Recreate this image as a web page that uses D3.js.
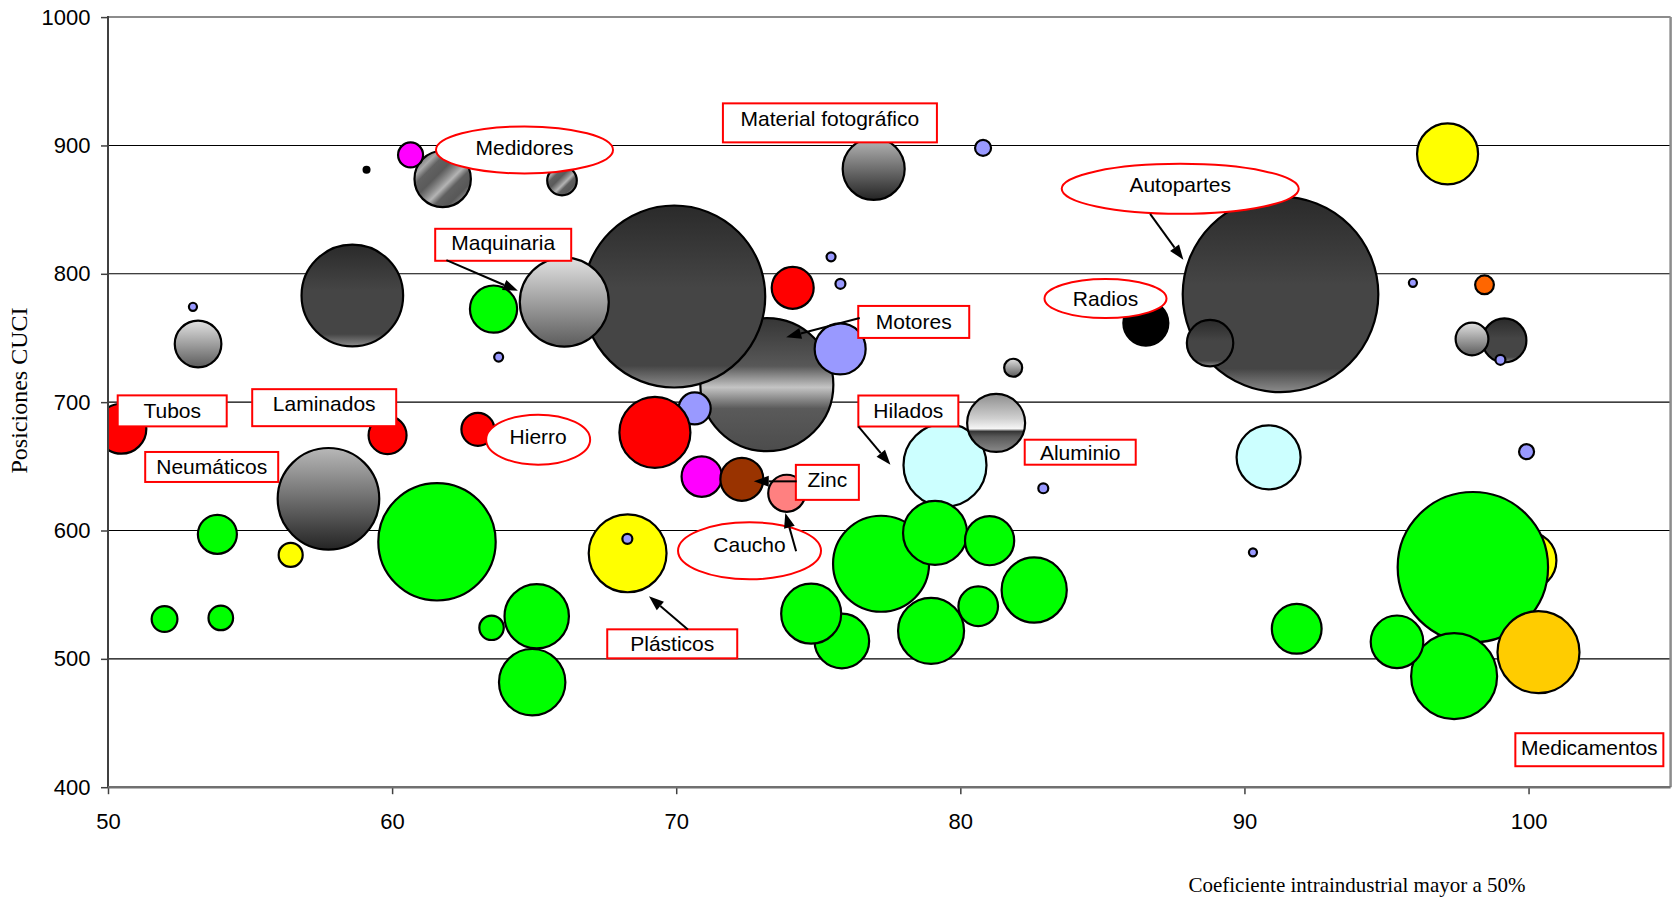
<!DOCTYPE html>
<html>
<head>
<meta charset="utf-8">
<script src="https://cdn.jsdelivr.net/npm/d3@7"></script>
<style>
  body { margin: 0; background: #fff; }
  svg { display: block; }
</style>
</head>
<body>
<svg id="grafico" width="1677" height="901"></svg>
<script>
// Coeficiente intraindustrial (eje x), posición CUCI (eje y), peso relativo (área de la burbuja)
// y serie de cada burbuja. El orden del arreglo es el orden de dibujo.
const coeficiente = [
  73.19, 69.93, 66.06, 58.60, 91.27, 88.79, 99.15, 98.01, 57.76, 76.95,
  53.17, 81.86, 79.46, 81.26, 90.85, 61.78, 65.98, 60.65, 70.90, 59.10,
  86.53, 97.15, 68.29, 56.43, 99.96, 98.04, 100.35, 97.38, 95.37, 91.84,
  61.58, 53.85, 51.99, 53.97, 63.50, 65.09, 64.93, 63.57, 77.21, 75.83,
  74.75, 79.11, 78.97, 81.03, 80.63, 82.60, 70.65, 50.47, 59.84, 63.02,
  69.25, 74.10, 72.31, 73.89, 98.45, 75.77, 80.80, 75.45, 75.78, 63.75,
  52.99, 68.28, 82.92, 95.93, 99.01, 99.93, 90.30
];
const posicion = [
  713.6, 782.3, 778.0, 783.1, 784.0, 746.0, 748.1, 749.2, 624.7, 881.7,
  745.3, 726.8, 650.9, 683.8, 657.0, 873.9, 872.6, 892.6, 642.0, 881.0,
  761.6, 893.4, 582.2, 581.0, 576.6, 571.4, 505.2, 486.5, 513.3, 523.4,
  591.2, 597.0, 531.0, 531.9, 524.2, 533.2, 481.8, 772.5, 574.1, 513.9,
  535.2, 598.1, 521.8, 592.1, 541.0, 553.6, 695.1, 679.3, 674.3, 678.8,
  676.4, 789.1, 639.9, 629.0, 791.4, 741.5, 898.1, 813.2, 792.2, 735.1,
  774.3, 593.5, 632.9, 793.0, 733.0, 661.4, 583.0
];
const peso = [
  46.23, 86.58, 20.70, 26.98, 100.00, 5.63, 5.06, 2.81, 26.98, 10.05,
  5.68, 0.85, 18.00, 8.79, 10.71, 8.31, 2.29, 1.63, 4.27, 0.09,
  5.29, 9.73, 15.82, 1.51, 8.79, 59.12, 17.58, 19.33, 7.23, 6.48,
  36.02, 3.98, 1.74, 1.58, 1.56, 10.84, 11.52, 5.82, 24.09, 7.79,
  9.41, 10.71, 11.39, 6.33, 4.10, 11.11, 2.68, 6.53, 3.77, 2.85,
  13.18, 4.61, 4.83, 3.58, 0.92, 6.80, 0.67, 0.21, 0.26, 0.21,
  0.17, 0.26, 0.26, 0.17, 0.26, 0.59, 0.17
];
const serie = [
  "metal", "oscuro", "plata", "oscuro", "oscuro", "oscuro", "oscuro", "plata", "gris", "gris",
  "plata", "plata", "celeste", "cromo", "celeste", "rayado", "rayado", "magenta", "magenta", "negro",
  "negro", "amarillo", "amarillo", "amarillo", "amarillo", "verde", "oro", "verde", "verde", "verde",
  "verde", "verde", "verde", "verde", "verde", "verde", "verde", "verde", "verde", "verde",
  "verde", "verde", "verde", "verde", "verde", "verde", "lila", "rojo", "rojo", "rojo",
  "rojo", "rojo", "marron", "rosa", "naranja", "lila", "lila", "lila", "lila", "lila",
  "lila", "lila", "lila", "lila", "lila", "lila", "lila"
];

const ticksX = [50, 60, 70, 80, 90, 100];
const ticksY = [400, 500, 600, 700, 800, 900, 1000];
const lineasGuia = [500, 600, 700, 800, 900];

const tituloX = "Coeficiente intraindustrial mayor a 50%";
const tituloY = "Posiciones CUCI";

// Rótulos de los sectores (centro en unidades de los ejes, tamaño del recuadro en px)
const notas = [
  { texto: "Tubos", forma: "caja", x: 52.26, y: 693.2, w: 109, h: 31, dy: 0 },
  { texto: "Laminados", forma: "caja", x: 57.61, y: 695.7, w: 144, h: 37, dy: -4 },
  { texto: "Neumáticos", forma: "caja", x: 53.65, y: 649.5, w: 133, h: 30, dy: 0 },
  { texto: "Medidores", forma: "elipse", x: 64.66, y: 896.5, w: 177, h: 47, dy: -2 },
  { texto: "Maquinaria", forma: "caja", x: 63.91, y: 822.6, w: 136, h: 32, dy: -2,
    flecha: [[61.91, 810.6], [64.43, 786.7]] },
  { texto: "Hierro", forma: "elipse", x: 65.14, y: 670.8, w: 104, h: 50, dy: -3 },
  { texto: "Material fotográfico", forma: "caja", x: 75.41, y: 917.6, w: 214, h: 39, dy: -4 },
  { texto: "Motores", forma: "caja", x: 78.36, y: 762.5, w: 111, h: 32, dy: 0,
    flecha: [[76.46, 765.5], [73.87, 750.6]] },
  { texto: "Hilados", forma: "caja", x: 78.17, y: 693.1, w: 100, h: 31, dy: -1,
    flecha: [[76.41, 681.1], [77.54, 651.3]] },
  { texto: "Aluminio", forma: "caja", x: 84.22, y: 661.0, w: 111, h: 25, dy: 0 },
  { texto: "Zinc", forma: "caja", x: 75.32, y: 637.5, w: 63, h: 35, dy: -3,
    flecha: [[74.24, 638.3], [72.73, 638.3]] },
  { texto: "Caucho", forma: "elipse", x: 72.58, y: 584.2, w: 143, h: 57, dy: -6,
    flecha: [[74.22, 583.8], [73.84, 613.7]] },
  { texto: "Plásticos", forma: "caja", x: 69.86, y: 511.7, w: 130, h: 29, dy: 0,
    flecha: [[70.41, 522.9], [69.04, 548.8]] },
  { texto: "Autopartes", forma: "elipse", x: 87.74, y: 866.2, w: 237, h: 50, dy: -4,
    flecha: [[86.68, 846.7], [87.85, 810.9]] },
  { texto: "Radios", forma: "elipse", x: 85.11, y: 780.7, w: 122, h: 39, dy: 0 },
  { texto: "Medicamentos", forma: "caja", x: 102.14, y: 429.2, w: 148, h: 33, dy: -2 }
];

// ---- estilos ----
const fuenteSans = "'Liberation Sans', Arial, Helvetica, sans-serif";
const fuenteSerif = "'Liberation Serif', 'Times New Roman', serif";

const degradados = {
  oscuro: [[0, "#2a2a2a"], [0.45, "#454545"], [0.88, "#454545"], [1, "#8c8c8c"]],
  metal:  [[0, "#363636"], [0.36, "#585858"], [0.52, "#c4c4c4"], [0.68, "#5a5a5a"], [1, "#4c4c4c"]],
  plata:  [[0, "#e2e2e2"], [1, "#5c5c5c"]],
  gris:   [[0, "#b8b8b8"], [1, "#242424"]],
  cromo:  [[0, "#8e8e8e"], [0.42, "#cfcfcf"], [0.6, "#f6f6f6"], [0.645, "#353535"], [0.74, "#5a5a5a"], [1, "#8a8a8a"]]
};
const rayado = [[0, "#5a5a5a"], [0.14, "#7c7c7c"], [0.22, "#a8a8a8"], [0.3, "#626262"], [0.42, "#5a5a5a"],
                [0.52, "#8e8e8e"], [0.58, "#b4b4b4"], [0.66, "#606060"], [0.78, "#585858"], [0.87, "#8e8e8e"],
                [0.93, "#a8a8a8"], [1, "#5e5e5e"]];
const colorSerie = {
  verde: "#00ff00", rojo: "#ff0000", magenta: "#ff00ff", amarillo: "#ffff00",
  oro: "#ffcc00", naranja: "#ff6600", lila: "#9999ff", celeste: "#ccffff",
  marron: "#993300", rosa: "#ff8080", negro: "#000000",
  oscuro: "url(#g-oscuro)", metal: "url(#g-metal)", plata: "url(#g-plata)",
  gris: "url(#g-gris)", cromo: "url(#g-cromo)", rayado: "url(#g-rayado)"
};

// ---- geometría ----
const svg = d3.select("#grafico");
const area = { left: 108, right: 1670.6, top: 17.1, bottom: 787.2 };

const x = d3.scaleLinear().domain([50, 105]).range([area.left, area.right]);
const y = d3.scaleLinear().domain([400, 1000]).range([area.bottom, area.top]);
const r = d3.scaleSqrt().domain([0, 100]).range([0, 97.8]);

const defs = svg.append("defs");
Object.entries(degradados).forEach(([id, paradas]) => {
  const g = defs.append("linearGradient").attr("id", "g-" + id)
    .attr("x1", 0).attr("y1", 0).attr("x2", 0).attr("y2", 1);
  paradas.forEach(([o, c]) => g.append("stop").attr("offset", o).attr("stop-color", c));
});
const gr = defs.append("linearGradient").attr("id", "g-rayado")
  .attr("x1", 0).attr("y1", 0).attr("x2", 1).attr("y2", 1);
rayado.forEach(([o, c]) => gr.append("stop").attr("offset", o).attr("stop-color", c));

defs.append("clipPath").attr("id", "recorte").append("rect")
  .attr("x", area.left).attr("y", area.top)
  .attr("width", area.right - area.left).attr("height", area.bottom - area.top);

// líneas guía horizontales
svg.append("g").selectAll("line").data(lineasGuia).join("line")
  .attr("x1", area.left).attr("x2", area.right)
  .attr("y1", d => y(d)).attr("y2", d => y(d))
  .attr("stroke", "#000").attr("stroke-width", 1.1);

// burbujas
const burbujas = coeficiente.map((c, i) => ({ c, p: posicion[i], s: peso[i], serie: serie[i] }));
svg.append("g").attr("clip-path", "url(#recorte)")
  .selectAll("circle").data(burbujas).join("circle")
  .attr("cx", d => x(d.c)).attr("cy", d => y(d.p)).attr("r", d => r(d.s))
  .attr("fill", d => colorSerie[d.serie])
  .attr("stroke", "#000").attr("stroke-width", 2.2);

// marco del área de trazado
svg.append("line").attr("x1", area.left).attr("x2", area.right).attr("y1", area.top).attr("y2", area.top)
  .attr("stroke", "#8c8c8c").attr("stroke-width", 2);
svg.append("line").attr("x1", area.right).attr("x2", area.right).attr("y1", area.top).attr("y2", area.bottom)
  .attr("stroke", "#8c8c8c").attr("stroke-width", 2.5);

// ejes
const ejeY = svg.append("g").attr("transform", `translate(${area.left},0)`)
  .call(d3.axisLeft(y).tickValues(ticksY).tickSize(7).tickPadding(10.5).tickFormat(d3.format("d")));
const ejeX = svg.append("g").attr("transform", `translate(0,${area.bottom})`)
  .call(d3.axisBottom(x).tickValues(ticksX).tickSize(7).tickPadding(19).tickFormat(d3.format("d")));
[ejeY, ejeX].forEach(g => {
  g.select(".domain").remove();
  g.selectAll(".tick line").attr("stroke", "#404040").attr("stroke-width", 1.5);
  g.selectAll(".tick text").attr("fill", "#000").style("font-family", fuenteSans).style("font-size", "22px");
});
svg.append("line").attr("x1", area.left).attr("x2", area.left).attr("y1", area.top - 1).attr("y2", area.bottom)
  .attr("stroke", "#404040").attr("stroke-width", 2);
svg.append("line").attr("x1", area.left).attr("x2", area.right).attr("y1", area.bottom).attr("y2", area.bottom)
  .attr("stroke", "#707070").attr("stroke-width", 2.5);

// títulos de los ejes
svg.append("text").text(tituloX)
  .attr("x", 1357).attr("y", 885).attr("text-anchor", "middle").attr("dominant-baseline", "central")
  .style("font-family", fuenteSerif).style("font-size", "21px").attr("fill", "#000");
svg.append("text").text(tituloY)
  .attr("transform", "translate(19,390.5) rotate(-90)")
  .attr("text-anchor", "middle").attr("dominant-baseline", "central")
  .style("font-family", fuenteSerif).style("font-size", "24px").attr("fill", "#000");

// rótulos con recuadro o elipse
const capaNotas = svg.append("g");
notas.forEach(n => {
  const cx = x(n.x), cy = y(n.y);
  if (n.forma === "caja") {
    capaNotas.append("rect")
      .attr("x", cx - n.w / 2).attr("y", cy - n.h / 2).attr("width", n.w).attr("height", n.h)
      .attr("fill", "#fff").attr("stroke", "#ff0000").attr("stroke-width", 2);
  } else {
    capaNotas.append("ellipse")
      .attr("cx", cx).attr("cy", cy).attr("rx", n.w / 2).attr("ry", n.h / 2)
      .attr("fill", "#fff").attr("stroke", "#ff0000").attr("stroke-width", 2);
  }
  capaNotas.append("text").text(n.texto)
    .attr("x", cx).attr("y", cy + n.dy)
    .attr("text-anchor", "middle").attr("dominant-baseline", "central")
    .style("font-family", fuenteSans).style("font-size", "21px").attr("fill", "#000");
});

// flechas
const largoPunta = 15, anchoPunta = 11;
notas.filter(n => n.flecha).forEach(n => {
  const [a, b] = n.flecha;
  const x0 = x(a[0]), y0 = y(a[1]), x1 = x(b[0]), y1 = y(b[1]);
  const L = Math.hypot(x1 - x0, y1 - y0);
  const ux = (x1 - x0) / L, uy = (y1 - y0) / L;
  const bx = x1 - ux * largoPunta, by = y1 - uy * largoPunta;
  capaNotas.append("line")
    .attr("x1", x0).attr("y1", y0).attr("x2", bx).attr("y2", by)
    .attr("stroke", "#000").attr("stroke-width", 2);
  const pts = [
    [x1, y1],
    [bx - uy * anchoPunta / 2, by + ux * anchoPunta / 2],
    [bx + uy * anchoPunta / 2, by - ux * anchoPunta / 2]
  ];
  capaNotas.append("polygon").attr("points", pts.map(p => p.join(",")).join(" "))
    .attr("fill", "#000");
});
</script>
</body>
</html>
